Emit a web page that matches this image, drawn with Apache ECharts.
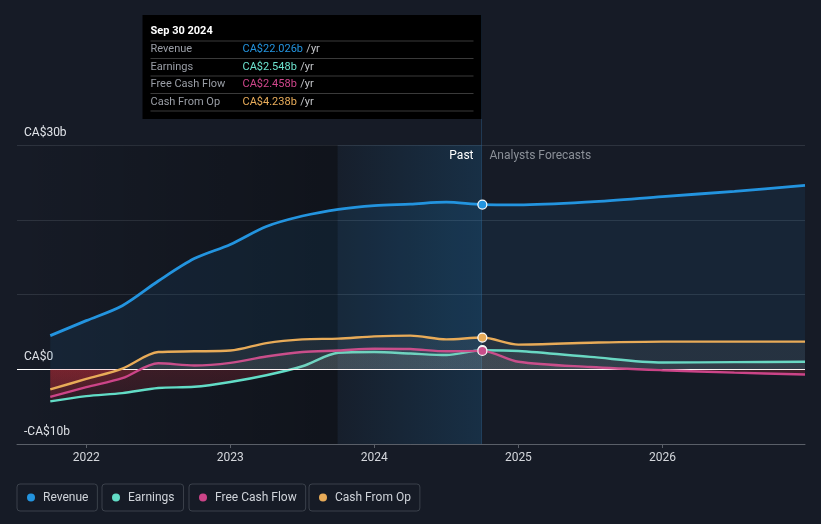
<!DOCTYPE html>
<html><head><meta charset="utf-8">
<script src="https://cdn.jsdelivr.net/npm/echarts@6/dist/echarts.min.js"></script>
<style>html,body{margin:0;padding:0;background:#161b26;}#c{width:821px;height:524px;}</style>
</head><body><div id="c"></div>
<script>
// ---- data (decimal years, values in CA$ billions) ----
const dates    = [2021.75, 2022.0, 2022.25, 2022.5, 2022.75, 2023.0, 2023.25, 2023.5, 2023.75, 2024.0, 2024.25, 2024.5, 2024.75, 2025.0, 2025.5, 2026.0, 2026.5, 2026.99];
const revenue  = [4.5, 6.5, 8.5, 11.8, 14.8, 16.7, 19.1, 20.5, 21.4, 21.9, 22.1, 22.35, 22.026, 22.0, 22.4, 23.1, 23.8, 24.6];
const earnings = [-4.3, -3.6, -3.2, -2.5, -2.35, -1.7, -0.8, 0.4, 2.2, 2.3, 2.1, 1.9, 2.548, 2.45, 1.65, 0.9, 0.95, 1.0];
const fcf      = [-3.7, -2.4, -1.2, 0.8, 0.5, 0.85, 1.7, 2.3, 2.5, 2.75, 2.7, 2.4, 2.458, 1.0, 0.3, -0.13, -0.45, -0.7];
const cfo      = [-2.7, -1.3, 0.1, 2.3, 2.4, 2.5, 3.5, 4.0, 4.1, 4.4, 4.5, 4.0, 4.238, 3.3, 3.55, 3.7, 3.7, 3.7];
const seriesNames = ['Revenue', 'Earnings', 'Free Cash Flow', 'Cash From Op'];
const seriesColors = ['#2394df', '#62dcc6', '#cc4488', '#e8ab58'];
const yearTicks = [2022, 2023, 2024, 2025, 2026];
const yLabels = {'30': 'CA$30b', '0': 'CA$0', '-10': '-CA$10b'};
const xMin = 2021.519, xMax = 2026.99;
const bandStart = 2023.745, pastEnd = 2024.744, pastIndex = 12;
const tipTitle = 'Sep 30 2024';
const tipLabels = ['Revenue', 'Earnings', 'Free Cash Flow', 'Cash From Op'];
const tipValues = ['CA$22.026b', 'CA$2.548b', 'CA$2.458b', 'CA$4.238b'];
const tipColors = ['#2394df', '#6de4d0', '#d0468c', '#e9ad5b'];
const pastLabel = 'Past', forecastLabel = 'Analysts Forecasts';

const allValues = [revenue, earnings, fcf, cfo];
const font = 'Roboto, "Noto Sans", sans-serif';

const chart = echarts.init(document.getElementById('c'), null, {renderer: 'canvas'});

function buildData(vals, idx) {
  return dates.map((d, i) => {
    if (i === pastIndex) {
      return {value: [d, vals[i]], symbol: 'circle', symbolSize: 9,
        itemStyle: {color: seriesColors[idx], borderColor: '#ffffff', borderWidth: 1.2}};
    }
    return {value: [d, vals[i]], symbol: 'none'};
  });
}

const legendCommon = {
  icon: 'circle', itemWidth: 8, itemHeight: 8, top: 484,
  padding: [7, 9, 7, 10], borderColor: '#3b414b', borderWidth: 1, borderRadius: 3,
  textStyle: {color: '#cfd3d9', fontSize: 12, fontFamily: font, lineHeight: 13, padding: [0, 0, 0, 3]},
  selectedMode: false
};
const legendLefts = [17, 102, 189, 309];

const baseOption = {
  animation: false,
  backgroundColor: '#161b26',
  textStyle: {fontFamily: font},
  grid: {left: 17, right: 16, top: 145, bottom: 80},
  legend: seriesNames.map((n, i) => Object.assign({}, legendCommon, {data: [n], left: legendLefts[i]})),
  xAxis: {
    type: 'value', min: xMin, max: xMax,
    axisLine: {show: true, onZero: false, lineStyle: {color: '#5a5f68', width: 1}},
    axisTick: {show: true, customValues: yearTicks, length: 4, lineStyle: {color: '#5a5f68'}},
    axisLabel: {customValues: yearTicks, formatter: v => String(Math.round(v)), color: '#d4d7dc', fontSize: 12, margin: 8, fontFamily: font},
    splitLine: {show: false}
  },
  yAxis: {
    type: 'value', min: -10, max: 30, interval: 10,
    axisLine: {show: false}, axisTick: {show: false},
    splitLine: {lineStyle: {color: '#2d333e', width: 1}},
    axisLabel: {inside: true, margin: 7, formatter: v => (yLabels[String(v)] || ''), color: '#e2e5ea', fontSize: 12,
      verticalAlign: 'bottom', padding: [0, 0, 6, 0], fontFamily: font}
  },
  series: seriesNames.map((n, i) => ({
    name: n, type: 'line', smooth: 0.3, showSymbol: true, symbol: 'none',
    data: buildData(allValues[i], i),
    itemStyle: {color: seriesColors[i]},
    lineStyle: {color: seriesColors[i], width: i === 0 ? 2.8 : 2.4},
    z: 3 + i
  }))
};
chart.setOption(baseOption);

// pixel references from the library's own scales
const yTop = chart.convertToPixel({yAxisIndex: 0}, 30);
const yZero = chart.convertToPixel({yAxisIndex: 0}, 0);
const yBot = chart.convertToPixel({yAxisIndex: 0}, -10);
const xPast = chart.convertToPixel({xAxisIndex: 0}, pastEnd);
const f = (yZero - yTop) / (yBot - yTop);

function hexA(hex, a) {
  const r = parseInt(hex.slice(1, 3), 16), g = parseInt(hex.slice(3, 5), 16), b = parseInt(hex.slice(5, 7), 16);
  return `rgba(${r},${g},${b},${a})`;
}
function areaFor(i) {
  if (i === 0) return {color: hexA(seriesColors[0], 0.13), origin: 0};
  return {
    origin: 0,
    color: {type: 'linear', x: 0, y: yTop, x2: 0, y2: yBot, global: true, colorStops: [
      {offset: 0, color: 'rgba(170,170,160,0.14)'},
      {offset: f, color: 'rgba(170,170,160,0.14)'},
      {offset: f, color: 'rgba(210,45,55,0.3)'},
      {offset: 1, color: 'rgba(210,45,55,0.04)'}
    ]}
  };
}

const series2 = seriesNames.map((n, i) => {
  const s = {name: n, areaStyle: areaFor(i)};
  if (i === 0) {
    s.markArea = {
      silent: true,
      data: [
        [{xAxis: xMin, itemStyle: {color: {type: 'linear', x: 0, y: 0, x2: 1, y2: 0, colorStops: [
          {offset: 0, color: 'rgba(0,0,0,0)'}, {offset: 1, color: 'rgba(0,0,0,0.28)'}]}}}, {xAxis: bandStart}],
        [{xAxis: bandStart, itemStyle: {color: {type: 'linear', x: 0, y: 0, x2: 1, y2: 0, colorStops: [
          {offset: 0, color: 'rgba(33,148,223,0.03)'}, {offset: 1, color: 'rgba(33,148,223,0.17)'}]}}}, {xAxis: pastEnd}]
      ]
    };
    s.markLine = {
      silent: true, symbol: 'none', label: {show: false},
      lineStyle: {color: '#ffffff', width: 1, type: 'solid'},
      data: [{yAxis: 0}]
    };
  }
  return s;
});

// tooltip box + annotations
const boxW = 339, boxTop = 15, boxH = 104;
const boxL = xPast - boxW;
const rowYs = [49.5, 67, 84.5, 102];
const sepYs = [41, 58.5, 76, 93.5, 111];
const graphics = [
  {type: 'line', z: 1, silent: true, shape: {x1: xPast, y1: boxTop, x2: xPast, y2: yBot}, style: {stroke: 'rgba(45,95,140,0.45)', lineWidth: 1}},
  {type: 'rect', z: 10, shape: {x: boxL, y: boxTop, width: boxW, height: boxH}, style: {fill: '#000000'}},
  {type: 'text', z: 11, x: boxL + 8, y: 31, style: {text: tipTitle, fill: '#ffffff', font: 'bold 11px ' + font, verticalAlign: 'middle'}},
  {type: 'text', z: 11, x: xPast - 8, y: 156, style: {text: pastLabel, fill: '#ffffff', font: '12px ' + font, align: 'right', verticalAlign: 'middle'}},
  {type: 'text', z: 11, x: xPast + 8, y: 156, style: {text: forecastLabel, fill: '#8b9098', font: '12px ' + font, align: 'left', verticalAlign: 'middle'}}
];
sepYs.forEach(y => graphics.push({type: 'line', z: 11, shape: {x1: boxL + 8, y1: y, x2: xPast - 8, y2: y}, style: {stroke: '#3a3a3a', lineWidth: 1}}));
tipLabels.forEach((lab, i) => {
  graphics.push({type: 'text', z: 11, x: boxL + 8, y: rowYs[i], style: {text: lab, fill: '#9a9ea6', font: '11px ' + font, verticalAlign: 'middle'}});
  graphics.push({type: 'text', z: 11, x: boxL + 100, y: rowYs[i], style: {
    text: '{v|' + tipValues[i] + '} {u|/yr}', verticalAlign: 'middle',
    rich: {v: {fill: tipColors[i], font: '11px ' + font}, u: {fill: '#c4c6ca', font: '11px ' + font}}
  }});
});

chart.setOption({series: series2, graphic: graphics});
</script>
</body></html>
